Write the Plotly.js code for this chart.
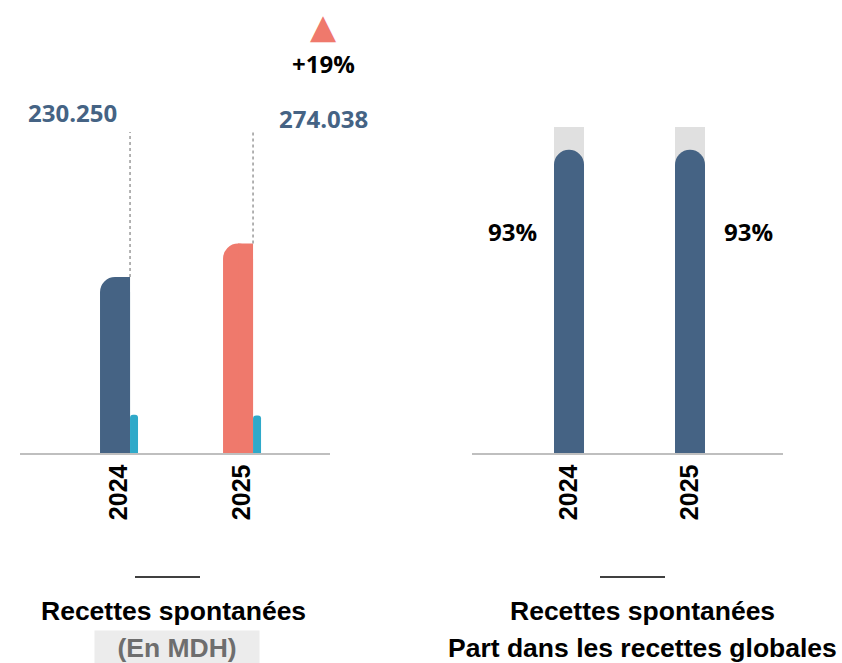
<!DOCTYPE html>
<html>
<head>
<meta charset="utf-8">
<script src="https://cdn.plot.ly/plotly-3.0.1.min.js"></script>
<style>
  html, body { margin: 0; padding: 0; background: #fff; }
  #chart { width: 842px; height: 663px; }
</style>
</head>
<body>
<div id="chart"></div>
<script>
// Data
const years = ['2024', '2025'];
const recettesSpontanees = [230.250, 274.038];   // En MDH
const recettesAutres = [50, 49];                  // small cyan bars
const partRecettesGlobales = [93, 93];            // %
const partTotal = [100, 100];                     // background bars
const variationLabel = '+19%';

// Colours
const BLUE = '#456384';
const CORAL = '#ef796c';
const CYAN = '#2fa9c9';
const GREY_BG = '#e0e0e0';
const AXIS_GREY = '#bfbfbf';

const xIdx = years.map((_, i) => i);

// Left panel bar geometry (in category units)
const mainW = 0.244, mainOff = -0.1545;
const cyanW = 0.065, cyanOff = 0.0894;
const guideTop = 420;

function fmtMDH(v) {
    return v.toFixed(3);
}

const traces = [];

// main bars, rounded top
traces.push({
    type: 'bar', x: xIdx, y: recettesSpontanees, xaxis: 'x', yaxis: 'y',
    width: mainW, offset: mainOff,
    marker: { color: [BLUE, CORAL], cornerradius: 15 },
    hoverinfo: 'none', showlegend: false
});
// right half square, so only the top-left corner is rounded
traces.push({
    type: 'bar', x: xIdx, y: recettesSpontanees, xaxis: 'x', yaxis: 'y3',
    width: mainW / 2, offset: mainOff + mainW / 2,
    marker: { color: [BLUE, CORAL], cornerradius: 0 },
    hoverinfo: 'none', showlegend: false
});
// small cyan bars
traces.push({
    type: 'bar', x: xIdx, y: recettesAutres, xaxis: 'x', yaxis: 'y4',
    width: cyanW, offset: cyanOff,
    marker: { color: CYAN, cornerradius: 3 },
    hoverinfo: 'none', showlegend: false
});
// dotted guides above bars
xIdx.forEach((i) => {
    const gx = i + mainOff + mainW;
    traces.push({
        type: 'scatter', mode: 'lines', xaxis: 'x', yaxis: 'y4',
        x: [gx, gx], y: [recettesSpontanees[i], guideTop],
        line: { color: '#9a9a9a', width: 1.5, dash: 'dot' },
        hoverinfo: 'none', showlegend: false
    });
});

// Right panel: grey 100% background then share bars
const rW = 0.248;
traces.push({
    type: 'bar', x: xIdx, y: partTotal, xaxis: 'x2', yaxis: 'y2',
    width: rW, offset: -rW / 2,
    marker: { color: GREY_BG, cornerradius: 0 },
    hoverinfo: 'none', showlegend: false
});
traces.push({
    type: 'bar', x: xIdx, y: partRecettesGlobales, xaxis: 'x2', yaxis: 'y5',
    width: rW, offset: -rW / 2,
    marker: { color: BLUE, cornerradius: 15 },
    hoverinfo: 'none', showlegend: false
});

const tickFont = { family: 'Liberation Sans, Arial, sans-serif', size: 25, color: '#000', weight: 'bold' };
const yBase = 1 - 453 / 663;

function xAxis(domain, range, anchor) {
    return {
        domain: domain, range: range, anchor: anchor,
        tickvals: xIdx, ticktext: years, tickangle: -90,
        tickfont: tickFont, ticks: '', showgrid: false, zeroline: false,
        showline: true, linecolor: AXIS_GREY, linewidth: 1.5,
        fixedrange: true
    };
}

const leftY = { domain: [yBase, 1 - 100 / 663], range: [0, 461.8], visible: false, fixedrange: true };
const rightY = { domain: [yBase, 1 - 127 / 663], range: [0, 100], visible: false, fixedrange: true };

const titleFont = { family: 'Liberation Sans, Arial, sans-serif', size: 26.5, color: '#000', weight: 'bold' };
const valueFont = { family: 'Open Sans, sans-serif', size: 24, color: BLUE, weight: 'bold' };
const pctFont = { family: 'Open Sans, sans-serif', size: 24, color: '#000', weight: 'bold' };

function ann(px, py, text, font, extra) {
    return Object.assign({
        xref: 'paper', yref: 'paper', x: px / 842, y: 1 - py / 663,
        xanchor: 'center', yanchor: 'middle', showarrow: false,
        text: text, font: font
    }, extra || {});
}

const annotations = [
    ann(72, 112, fmtMDH(recettesSpontanees[0]), valueFont),
    ann(323, 118, fmtMDH(recettesSpontanees[1]), valueFont),
    ann(323, 26, '▲', { family: 'DejaVu Sans', size: 34, color: CORAL }),
    ann(323, 64, variationLabel, pctFont),
    ann(512, 232, partRecettesGlobales[0] + '%', pctFont),
    ann(748, 232, partRecettesGlobales[1] + '%', pctFont),
    ann(173, 611, 'Recettes spontanées', titleFont),
    ann(177, 647, '(En MDH)', Object.assign({}, titleFont, { color: '#6e6e6e' }),
        { bgcolor: '#ececec', width: 162, height: 31 }),
    ann(642, 611, 'Recettes spontanées', titleFont),
    ann(642, 648, 'Part dans les recettes globales', titleFont)
];

const shapes = [
    { type: 'line', xref: 'paper', yref: 'paper', x0: 135 / 842, x1: 200 / 842,
      y0: 1 - 577 / 663, y1: 1 - 577 / 663, line: { color: '#000', width: 1.5 } },
    { type: 'line', xref: 'paper', yref: 'paper', x0: 600 / 842, x1: 665 / 842,
      y0: 1 - 577 / 663, y1: 1 - 577 / 663, line: { color: '#000', width: 1.5 } }
];

const layout = {
    width: 842, height: 663,
    margin: { l: 0, r: 0, t: 0, b: 0 },
    paper_bgcolor: '#fff', plot_bgcolor: 'rgba(0,0,0,0)',
    barmode: 'overlay', showlegend: false,
    xaxis: xAxis([20 / 842, 330 / 842], [-0.805, 1.715], 'y'),
    yaxis: leftY,
    yaxis3: Object.assign({}, leftY, { overlaying: 'y', anchor: 'x' }),
    yaxis4: Object.assign({}, leftY, { overlaying: 'y', anchor: 'x' }),
    xaxis2: xAxis([472 / 842, 783 / 842], [-0.8017, 1.7686], 'y2'),
    yaxis2: rightY,
    yaxis5: Object.assign({}, rightY, { overlaying: 'y2', anchor: 'x2' }),
    annotations: annotations,
    shapes: shapes
};

Plotly.newPlot('chart', traces, layout, { staticPlot: true, displayModeBar: false });
</script>
</body>
</html>
